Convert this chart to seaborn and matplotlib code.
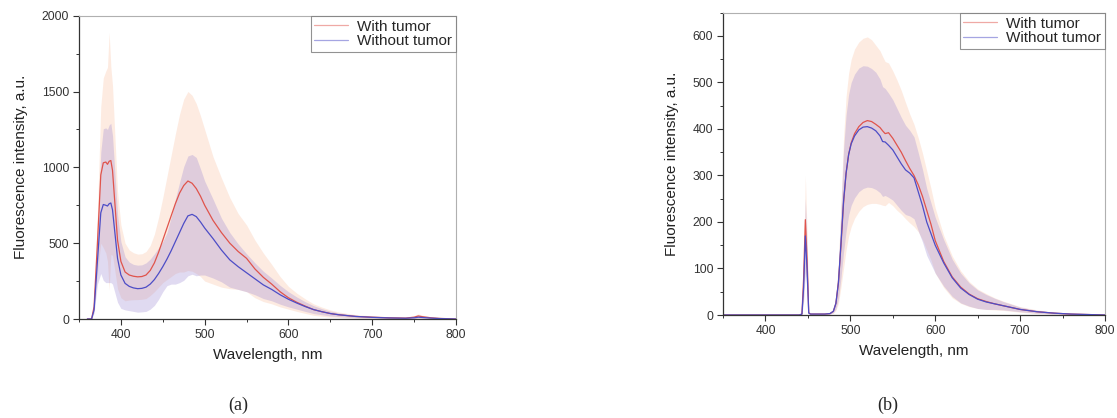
import numpy as np
import pandas as pd
import matplotlib
matplotlib.use("Agg")
import matplotlib.pyplot as plt
from matplotlib.ticker import MultipleLocator
import seaborn as sns

# ---------------- data: panel (a) ----------------
wl_a = [360, 365, 368, 372, 376, 379, 382, 384, 386, 388, 390, 393, 396, 400, 405,
        410, 415, 420, 425, 430, 435, 440, 445, 450, 455, 460, 465, 470, 475, 480,
        485, 490, 495, 500, 510, 520, 530, 540, 550, 560, 570, 580, 590, 600, 610,
        620, 630, 640, 650, 660, 680, 700, 720, 740, 750, 755, 760, 770, 780, 800]
with_a = [0, 0, 80, 500, 950, 1030, 1035, 1020, 1040, 1045, 980, 750, 520, 380, 310,
          290, 282, 278, 280, 290, 320, 370, 440, 520, 600, 680, 760, 830, 880, 910,
          895, 860, 810, 750, 650, 570, 500, 445, 400, 330, 275, 230, 180, 140, 110,
          85, 62, 48, 36, 28, 17, 12, 8, 6, 12, 20, 15, 8, 4, 0]
without_a = [0, 0, 60, 380, 700, 755, 750, 745, 760, 765, 720, 560, 400, 290, 235,
             215, 205, 200, 202, 210, 230, 260, 300, 345, 395, 450, 510, 570, 630, 680,
             690, 675, 640, 600, 530, 455, 390, 345, 305, 265, 225, 195, 160, 130, 105,
             82, 62, 48, 36, 28, 17, 11, 7, 5, 8, 12, 10, 6, 3, 0]
sd_with_a = [0, 0, 30, 200, 450, 560, 600, 640, 850, 620, 560, 440, 320, 240, 190,
             165, 155, 150, 150, 155, 165, 190, 230, 280, 340, 400, 460, 520, 570, 590,
             580, 560, 530, 500, 420, 360, 300, 250, 220, 190, 160, 130, 100, 75, 60,
             48, 38, 30, 24, 18, 12, 8, 6, 5, 10, 14, 10, 6, 3, 0]
sd_without_a = [0, 0, 20, 150, 400, 500, 510, 505, 520, 525, 490, 390, 290, 220, 175,
                160, 155, 155, 155, 160, 165, 170, 170, 165, 175, 220, 280, 330, 375, 395,
                395, 390, 350, 310, 260, 210, 180, 150, 125, 105, 90, 75, 62, 50, 40,
                32, 26, 20, 16, 12, 8, 5, 4, 3, 5, 7, 5, 3, 2, 0]

# ---------------- data: panel (b) ----------------
wl_b = [350, 440, 443, 445, 447, 449, 451, 453, 460, 470, 476, 480, 483, 486, 489,
        492, 495, 498, 501, 505, 510, 515, 520, 525, 530, 535, 538, 541, 545, 550,
        555, 560, 565, 570, 575, 580, 585, 590, 595, 600, 610, 620, 630, 640, 650,
        660, 670, 680, 690, 700, 720, 740, 760, 780, 800]
with_b = [0, 0, 2, 80, 205, 120, 5, 2, 2, 2, 3, 8, 25, 70, 150,
          240, 305, 345, 370, 390, 405, 414, 418, 416, 410, 403, 396, 390, 392, 380,
          365, 350, 332, 315, 300, 280, 255, 225, 195, 160, 115, 82, 60, 45, 35,
          29, 24, 20, 16, 12, 7, 4, 2, 1, 0]
without_b = [0, 0, 2, 60, 170, 100, 4, 2, 2, 2, 3, 8, 25, 70, 155,
             245, 305, 345, 368, 385, 398, 404, 405, 402, 396, 385, 373, 372, 365, 355,
             340, 325, 312, 305, 295, 265, 235, 200, 175, 150, 112, 80, 58, 44, 34,
             28, 24, 20, 16, 12, 7, 4, 2, 1, 0]
sd_with_b = [0, 0, 0, 40, 95, 60, 0, 0, 0, 0, 1, 4, 15, 45, 90,
             140, 165, 175, 180, 182, 182, 181, 180, 176, 170, 165, 160, 155, 150, 145,
             140, 133, 125, 117, 110, 101, 93, 85, 77, 70, 56, 45, 35, 27, 21,
             17, 13, 10, 8, 6, 4, 2, 1, 0, 0]
sd_without_b = [0, 0, 0, 30, 80, 50, 0, 0, 0, 0, 1, 3, 12, 35, 75,
                110, 125, 130, 132, 133, 133, 132, 130, 128, 126, 122, 118, 115, 112, 108,
                104, 100, 96, 92, 88, 84, 78, 72, 66, 60, 50, 40, 32, 25, 20,
                16, 12, 9, 7, 5, 3, 2, 1, 0, 0]

labels = ["With tumor", "Without tumor"]
line_colors = ["#e0544c", "#4d4dc6"]
band_colors = ["#f7a57a", "#9a86d2"]
band_alphas = [0.22, 0.3]
captions = ["(a)", "(b)"]

sns.set_style("ticks")
plt.rcParams["font.family"] = ["Liberation Sans", "DejaVu Sans"]

fig = plt.figure(figsize=(11.17, 4.18), dpi=100)
ax_a = fig.add_axes([79 / 1117, 1 - 319 / 418, 377 / 1117, 303.3 / 418])
ax_b = fig.add_axes([723 / 1117, 1 - 315 / 418, 382 / 1117, 302.3 / 418])

panels = [
    (ax_a, wl_a, [with_a, without_a], [sd_with_a, sd_without_a], (0, 2000), 500, 250),
    (ax_b, wl_b, [with_b, without_b], [sd_with_b, sd_without_b], (0, 650), 100, 50),
]

for ax, wl, means, sds, ylim, ymaj, ymin in panels:
    wl_arr = np.array(wl, dtype=float)
    for m, s, bc, ba in zip(means, sds, band_colors, band_alphas):
        m = np.array(m, dtype=float)
        s = np.array(s, dtype=float)
        ax.fill_between(wl_arr, np.clip(m - s, 0, None), m + s, color=bc,
                        alpha=ba, linewidth=0)
    df = pd.DataFrame({
        "Wavelength": np.concatenate([wl_arr, wl_arr]),
        "Intensity": np.concatenate([np.array(means[0], float), np.array(means[1], float)]),
        "Group": [labels[0]] * len(wl) + [labels[1]] * len(wl),
    })
    sns.lineplot(data=df, x="Wavelength", y="Intensity", hue="Group",
                 palette=dict(zip(labels, line_colors)), linewidth=0.9,
                 ax=ax, legend=True, estimator=None, sort=False)
    ax.set_xlim(350, 800)
    ax.set_ylim(*ylim)
    ax.xaxis.set_major_locator(MultipleLocator(100))
    ax.xaxis.set_minor_locator(MultipleLocator(50))
    ax.yaxis.set_major_locator(MultipleLocator(ymaj))
    ax.yaxis.set_minor_locator(MultipleLocator(ymin))
    ax.tick_params(which="major", direction="out", length=4, width=0.8,
                   labelsize=8.7, colors="#333333", pad=3)
    ax.tick_params(which="minor", direction="out", length=2.5, width=0.7,
                   colors="#333333")
    ax.tick_params(axis="x", which="both", top=False)
    ax.tick_params(axis="y", which="both", right=False)
    for side in ["left", "bottom"]:
        ax.spines[side].set_color("#333333")
        ax.spines[side].set_linewidth(0.9)
    for side in ["top", "right"]:
        ax.spines[side].set_visible(True)
        ax.spines[side].set_color("#b0b0b0")
        ax.spines[side].set_linewidth(0.8)
    ax.set_xlabel("Wavelength, nm", fontsize=11, color="#222222", labelpad=5)
    ax.set_ylabel("Fluorescence intensity, a.u.", fontsize=11, color="#222222",
                  labelpad=10)
    handles, labs = ax.get_legend_handles_labels()
    for h in handles:
        h.set_alpha(0.5)
    leg = ax.legend(handles, labs, loc="upper right", fontsize=11, frameon=True,
                    fancybox=False, borderaxespad=0, borderpad=0.25,
                    labelspacing=0.05, handlelength=2.2, handletextpad=0.6)
    leg.get_frame().set_edgecolor("#777777")
    leg.get_frame().set_linewidth(0.8)

fig.text(238 / 1117, 1 - 405 / 418, captions[0], ha="center", va="center",
         fontsize=13, family=["Liberation Serif", "DejaVu Serif"])
fig.text(888 / 1117, 1 - 405 / 418, captions[1], ha="center", va="center",
         fontsize=13, family=["Liberation Serif", "DejaVu Serif"])

fig.savefig("out.png", dpi=100, facecolor="white")
